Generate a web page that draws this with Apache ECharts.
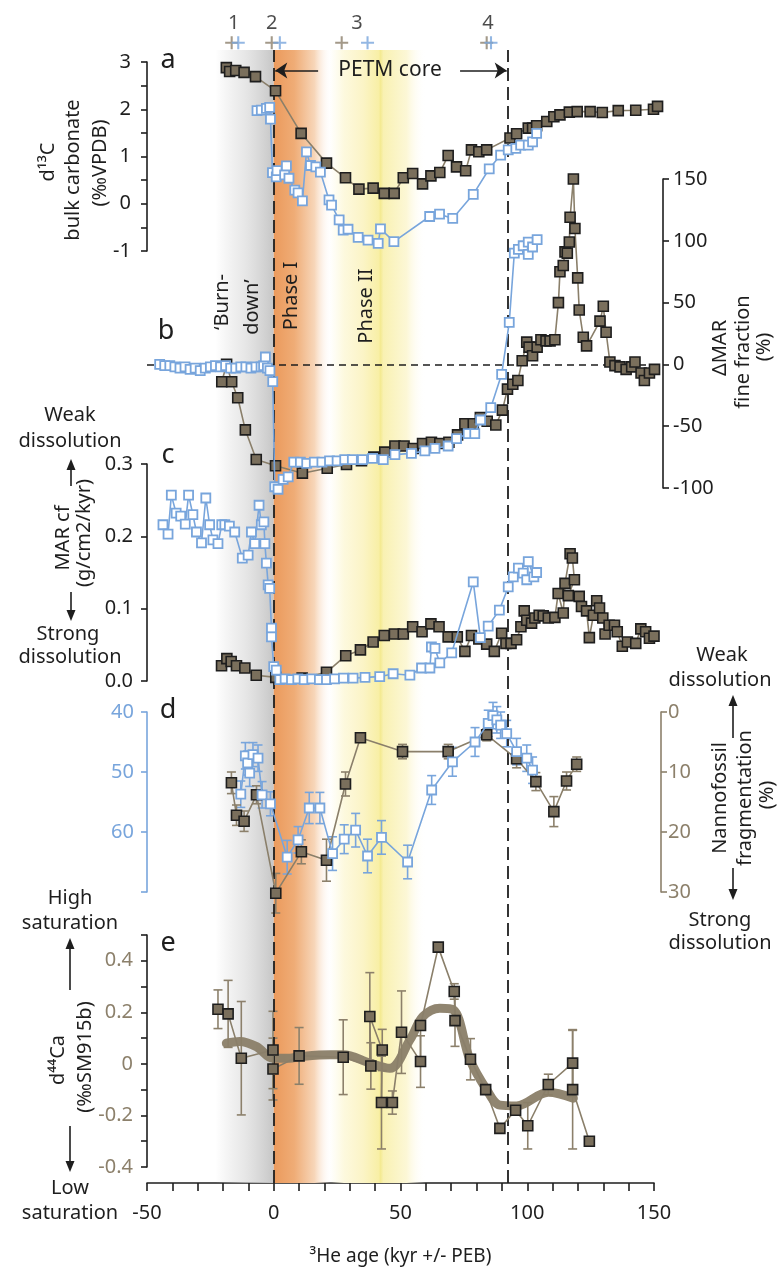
<!DOCTYPE html>
<html>
<head>
<meta charset="utf-8">
<script src="https://cdn.jsdelivr.net/npm/echarts/dist/echarts.min.js"></script>
<style>
html, body { margin: 0; padding: 0; background: #fff; }
#chart { width: 782px; height: 1271px; }
</style>
</head>
<body>
<div id="chart"></div>
<script>
// age axis (kyr relative to PEB)
var ageMin = -50, ageMax = 150, ageTicks = [-50, 0, 50, 100, 150];

// tie points (top)
var tieBrownX = [-16.6, -0.8, 26.8, 84.0];
var tieBlueX = [-14.0, 2.4, 37.0, 85.7];
var tieNumX = [-15.8, -0.8, 32.8, 84.5];
var tieNum = ['1', '2', '3', '4'];

// a: d13C bulk carbonate
var aBrownX = [-18.7, -17.4, -15.0, -11.7, -7.2, 0.7, 10.8, 20.8, 28.3, 33.6, 39.2, 43.6, 47.5, 51.1, 54.8, 58.7, 62.0, 65.5, 68.8, 72.1, 75.7, 78.0, 80.9, 84.0, 93.2, 95.8, 100.4, 102.1, 103.7, 107.7, 110.5, 112.9, 116.6, 119.7, 124.8, 129.6, 135.9, 142.8, 149.8, 151.4];
var aBrownY = [2.88, 2.80, 2.82, 2.78, 2.69, 2.39, 1.49, 0.86, 0.55, 0.31, 0.33, 0.22, 0.22, 0.55, 0.64, 0.42, 0.59, 0.66, 1.02, 0.78, 0.70, 1.14, 1.10, 1.14, 1.39, 1.48, 1.60, 1.60, 1.65, 1.74, 1.84, 1.88, 1.94, 1.95, 1.95, 1.93, 1.97, 1.98, 2.00, 2.06];
var aBlueX = [-6.6, -4.9, -2.9, -1.6, -1.3, -0.5, 1.0, 1.3, 4.3, 5.0, 6.0, 8.3, 9.6, 11.3, 12.9, 14.5, 16.6, 18.4, 21.8, 22.8, 25.8, 27.4, 29.3, 33.3, 37.2, 41.2, 42.1, 47.4, 61.5, 65.4, 70.6, 78.7, 85.0, 89.5, 92.5, 95.5, 97.4, 100.4, 102.1, 103.7];
var aBlueY = [1.97, 1.98, 2.02, 2.04, 1.79, 0.66, 0.57, 0.70, 0.61, 0.80, 0.54, 0.29, 0.23, 0.06, 1.10, 0.81, 0.78, 0.67, 0.08, -0.03, -0.34, -0.56, -0.54, -0.71, -0.77, -0.84, -0.53, -0.80, -0.27, -0.22, -0.31, 0.20, 0.74, 1.03, 1.14, 1.17, 1.24, 1.24, 1.31, 1.49];

// b: delta MAR fine fraction (%)
var bBrownX = [-20.5, -18.6, -16.6, -14.2, -11.2, -6.9, 0.7, 11.3, 21.1, 28.7, 34.6, 39.5, 43.8, 47.8, 51.4, 55.0, 58.7, 62.2, 65.5, 69.1, 72.5, 75.4, 78.7, 81.5, 84.2, 87.6, 90.2, 92.2, 94.3, 96.3, 98.0, 99.8, 100.7, 102.1, 103.9, 105.4, 107.4, 109.0, 110.9, 112.3, 112.9, 114.2, 114.9, 115.8, 116.6, 116.9, 118.2, 118.8, 119.9, 120.5, 122.1, 123.4, 128.7, 130.0, 131.1, 132.6, 134.6, 136.6, 139.0, 141.2, 142.5, 144.9, 146.2, 148.2, 150.2];
var bBrownY = [-14, 0, -14, -27, -53, -77, -82, -88, -84, -81, -78, -75, -71, -66, -66, -68, -64, -63, -64, -63, -57, -48, -48, -43, -46, -49, -37, -20, -16, -13, 3, 18, 14, 7, 14, 20, 19, 19, 20, 50, 75, 80, 91, 90, 99, 119, 150, 110, 70, 44, 22, 15, 35, 47, 26, 2, -1, -2, -4, -2, 2, -7, -13, -7, -4];
var bBlueX = [-45, -43, -41, -39, -37, -35, -33, -31, -29, -27, -25, -23, -21, -19, -17, -15, -13, -11, -9, -7, -5, -4, -3.3, -2.5, -1.5, -0.4, 0.4, 1.7, 3.7, 5.7, 7.9, 10.5, 13, 16, 19, 22, 25, 28, 31, 35, 39, 43.2, 47.8, 54.3, 59.6, 63.6, 68.8, 72.1, 76.7, 79.3, 81.6, 85.6, 89.9, 92.9, 94.9, 96.5, 98.4, 100.4, 100.4, 102.1, 103.9];
var bBlueY = [0, -1, -1, -2, -3, -2, -4, -3, -5, -3, -2, -1, -2, -1, -3, -3, -2, -2, -3, -2, -2, -1, 6, -3, -5, -14, -99, -101, -93, -91, -79, -79, -80, -79, -79, -78, -78, -77, -77, -77, -76, -77, -73, -72, -70, -68, -66, -60, -56, -56, -45, -35, -8, 34, 90, 93, 96, 89, 99, 95, 101];

// c: MAR coarse fraction (g/cm2/kyr)
var cBrownX = [-20.6, -18.5, -16.8, -14.7, -11.4, -6.9, 0.8, 11.2, 20.8, 28.4, 34.2, 39.2, 43.6, 47.6, 51.1, 54.8, 58.5, 62.0, 65.2, 68.8, 72.4, 75.4, 78.0, 80.9, 84.0, 87.0, 89.9, 91.6, 93.6, 95.8, 97.5, 98.8, 99.8, 101.7, 103.0, 104.7, 106.3, 108.3, 110.9, 112.2, 114.2, 114.9, 116.9, 117.8, 118.6, 116.2, 120.5, 121.4, 123.4, 124.5, 126.1, 127.4, 128.5, 129.8, 130.7, 132.3, 134.4, 135.5, 137.5, 139.5, 142.8, 144.8, 146.7, 148.2, 150.0];
var cBrownY = [0.021, 0.031, 0.027, 0.021, 0.018, 0.008, 0.005, 0.004, 0.012, 0.035, 0.043, 0.054, 0.063, 0.065, 0.065, 0.075, 0.068, 0.079, 0.075, 0.061, 0.061, 0.041, 0.063, 0.058, 0.051, 0.041, 0.066, 0.052, 0.052, 0.057, 0.075, 0.097, 0.084, 0.080, 0.087, 0.091, 0.090, 0.087, 0.088, 0.121, 0.094, 0.135, 0.176, 0.170, 0.140, 0.118, 0.117, 0.103, 0.097, 0.060, 0.091, 0.111, 0.101, 0.087, 0.065, 0.077, 0.077, 0.068, 0.048, 0.054, 0.052, 0.072, 0.068, 0.059, 0.062];
var cBlueX = [-43.7, -41.7, -40.4, -38.5, -36.7, -34.9, -33.6, -31.9, -30.5, -28.5, -26.8, -25.3, -24.0, -22.0, -20.5, -19.3, -17.5, -15.4, -12.4, -10.1, -8.8, -7.5, -5.8, -4.9, -3.9, -3.5, -2.9, -2.2, -1.6, -0.9, -0.9, 0.0, 1.0, 2.4, 4.5, 7.0, 9.5, 12.0, 15.0, 18.0, 20.8, 24.0, 27.5, 31.3, 36.0, 41.8, 47.1, 53.7, 58.3, 61.6, 62.2, 63.6, 65.5, 70.2, 78.7, 81.5, 84.6, 89.0, 92.5, 94.5, 96.5, 98.4, 99.8, 100.4, 102.6, 103.7];
var cBlueY = [0.216, 0.203, 0.257, 0.232, 0.228, 0.217, 0.257, 0.230, 0.206, 0.191, 0.253, 0.216, 0.195, 0.190, 0.216, 0.216, 0.214, 0.206, 0.170, 0.174, 0.206, 0.190, 0.243, 0.216, 0.220, 0.190, 0.163, 0.133, 0.128, 0.073, 0.061, 0.020, 0.015, 0.002, 0.003, 0.002, 0.003, 0.002, 0.003, 0.002, 0.002, 0.003, 0.004, 0.004, 0.005, 0.006, 0.010, 0.008, 0.018, 0.018, 0.047, 0.045, 0.025, 0.039, 0.137, 0.060, 0.076, 0.098, 0.130, 0.144, 0.156, 0.149, 0.140, 0.165, 0.144, 0.150];

// d: nannofossil fragmentation (%) and blue record (left axis)
var dBrownX = [-16.7, -14.7, -11.7, -6.8, 0.8, 10.9, 20.8, 28.3, 34.2, 50.8, 68.8, 84.0, 95.8, 103.4, 110.5, 115.5, 119.5];
var dBrownY = [11.8, 17.2, 18.2, 13.8, 30.2, 23.3, 24.7, 12.0, 4.3, 6.6, 6.6, 3.8, 7.8, 11.6, 16.6, 11.5, 8.7];
var dBrownErr = [1.8, 1.7, 1.7, 1.5, 3.3, 2.0, 3.5, 2.0, 0.6, 1.2, 1.2, 1.0, 1.5, 1.5, 2.5, 1.5, 1.2];
var dBlueX = [-13.0, -11.2, -10.3, -9.5, -8.2, -6.2, -4.6, -1.3, 5.3, 9.6, 14.0, 18.2, 23.2, 27.8, 32.3, 37.0, 42.5, 52.8, 62.3, 70.5, 79.4, 84.6, 86.5, 88.0, 89.5, 91.9, 95.8, 99.8, 102.1];
var dBlueY = [53.7, 47.3, 48.5, 50.2, 47.1, 47.7, 53.8, 55.3, 64.2, 61.3, 56.0, 56.0, 63.6, 61.2, 59.7, 64.0, 60.9, 65.0, 53.0, 48.3, 45.0, 41.9, 40.6, 41.3, 42.2, 43.6, 46.6, 47.7, 49.7];
var dBlueErr = [2.2, 2.2, 2.0, 2.2, 2.0, 2.2, 2.2, 2.0, 2.8, 2.2, 2.6, 2.6, 2.8, 2.4, 2.8, 2.8, 2.8, 2.8, 2.4, 2.4, 2.4, 2.2, 2.2, 2.2, 2.2, 2.2, 2.2, 2.2, 2.2];

// e: d44Ca (permil SM915b)
var eX = [-22.0, -18.0, -12.8, -0.3, -0.3, 10.0, 27.4, 38.3, 37.9, 42.8, 42.5, 46.8, 50.4, 57.9, 57.9, 64.9, 71.2, 71.5, 77.6, 83.6, 89.2, 95.4, 100.2, 108.3, 117.9, 117.9, 124.5];
var eY = [0.212, 0.194, 0.022, 0.054, -0.020, 0.031, 0.026, -0.008, 0.184, 0.054, -0.150, -0.150, 0.123, 0.009, 0.149, 0.453, 0.281, 0.168, 0.018, -0.100, -0.250, -0.180, -0.240, -0.080, 0.003, -0.100, -0.300];
var eErr = [0.075, 0.13, 0.22, 0.15, 0.12, 0.11, 0.145, 0.09, 0.17, 0.08, 0.18, 0.045, 0.16, 0.10, 0.0, 0.0, 0.03, 0.10, 0.08, 0.0, 0.0, 0.0, 0.09, 0.04, 0.13, 0.23, 0.0];
var eFitX = [-18.7, -13.4, -6.8, -0.3, 6.3, 10.3, 22.1, 27.4, 37.9, 45.8, 53.7, 58.9, 65.5, 70.8, 77.4, 84.0, 89.2, 95.8, 108.3, 118.2];
var eFitY = [0.080, 0.087, 0.067, 0.022, 0.022, 0.028, 0.035, 0.035, 0.003, -0.017, 0.093, 0.184, 0.216, 0.210, 0.016, -0.100, -0.160, -0.163, -0.110, -0.133];

// shaded intervals and boundaries
var burnDown = [-23, 0];
var phase1 = [0, 23];
var phase2 = [22, 60];
var petmCore = [0, 92.5];

var FONT = '"Noto Sans", "Open Sans", sans-serif';
var INK = '#1e1e1e';
var BROWN_FILL = '#7a6f5c';
var BROWN_LINE = '#8a7f6a';
var TAUPE = '#8c806b';
var BLUE = '#78a5dc';

function pairs(xs, ys) {
    return xs.map(function (x, i) { return [x, ys[i]]; });
}
function bars(xs, ys, es) {
    return xs.map(function (x, i) { return [x, ys[i] - es[i], ys[i] + es[i]]; });
}

var chartDom = document.getElementById('chart');
var myChart = echarts.init(chartDom);

var L = 147, W = 507;
var grids = [
    {left: L, width: W, top: 50, height: 1134},   // 0 background + age axis
    {left: L, width: W, top: 62, height: 189},    // 1 a
    {left: L, width: W, top: 179, height: 309},   // 2 b
    {left: L, width: W, top: 464, height: 217},   // 3 c
    {left: L, width: W, top: 712, height: 180},   // 4 d
    {left: L, width: W, top: 935, height: 232},   // 5 e
    {left: L, width: W, top: 14, height: 36}      // 6 tie points
];

var xAxes = grids.map(function (g, i) {
    return {gridIndex: i, type: 'value', min: ageMin, max: ageMax, show: false};
});
xAxes[0] = {
    gridIndex: 0, type: 'value', min: ageMin, max: ageMax, interval: 50, position: 'bottom',
    axisLine: {onZero: false, lineStyle: {color: INK, width: 1.6}},
    axisTick: {length: 8, lineStyle: {color: INK, width: 1.6}},
    minorTick: {show: true, splitNumber: 5, length: 8, lineStyle: {color: INK, width: 1.6}},
    splitLine: {show: false},
    axisLabel: {color: INK, fontSize: 20, fontFamily: FONT, margin: 20},
    name: '³He age (kyr +/- PEB)', nameLocation: 'middle', nameGap: 64,
    nameTextStyle: {color: INK, fontSize: 19, fontFamily: FONT}
};

function yAxisOf(grid, o) {
    var col = o.color || INK;
    var ax = {
        gridIndex: grid, type: 'value', min: o.min, max: o.max, interval: o.interval,
        position: o.position || 'left', offset: o.offset || 0, inverse: !!o.inverse,
        splitLine: {show: false},
        axisLine: {show: true, onZero: false, lineStyle: {color: col, width: 1.6}},
        axisTick: {show: true, length: 6, lineStyle: {color: col, width: 1.6}},
        axisLabel: {color: o.labelColor || col, fontSize: 20, fontFamily: FONT, margin: o.margin || 14, formatter: o.formatter}
    };
    if (o.minor) ax.minorTick = {show: true, splitNumber: o.minor, length: 6, lineStyle: {color: col, width: 1.6}};
    return ax;
}

var yAxes = [
    {gridIndex: 0, type: 'value', min: 0, max: 1, show: false},
    yAxisOf(1, {min: -1, max: 3, interval: 1, minor: 2, margin: 16}),
    yAxisOf(2, {min: -100, max: 150, interval: 50, position: 'right', offset: 9, margin: 10}),
    yAxisOf(3, {min: 0, max: 0.3, interval: 0.1, formatter: function (v) { return v.toFixed(1); }}),
    yAxisOf(4, {min: 40, max: 70, interval: 10, inverse: true, color: BLUE, margin: 13,
        formatter: function (v) { return v === 70 ? '' : v; }}),
    yAxisOf(4, {min: 0, max: 30, interval: 10, inverse: true, position: 'right', offset: 7, color: TAUPE, margin: 7}),
    yAxisOf(5, {min: -0.4, max: 0.5, interval: 0.1, labelColor: TAUPE, margin: 14,
        formatter: function (v) {
            var r = Math.round(v * 10);
            if (r % 2 !== 0 || r > 4) return '';
            return r === 0 ? '0' : (r / 10).toFixed(1);
        }}),
    {gridIndex: 6, type: 'value', min: 0, max: 1, show: false}
];

function brownLine(name, xi, yi, data) {
    return {
        name: name, type: 'line', xAxisIndex: xi, yAxisIndex: yi, data: data,
        symbol: 'rect', symbolSize: 10, showAllSymbol: true, clip: false, z: 5,
        lineStyle: {color: BROWN_LINE, width: 1.6},
        itemStyle: {color: BROWN_FILL, borderColor: INK, borderWidth: 1.6}
    };
}
function blueLine(name, xi, yi, data) {
    return {
        name: name, type: 'line', xAxisIndex: xi, yAxisIndex: yi, data: data,
        symbol: 'rect', symbolSize: 9, showAllSymbol: true, clip: false, z: 6,
        lineStyle: {color: BLUE, width: 1.6},
        itemStyle: {color: '#fff', borderColor: BLUE, borderWidth: 1.8}
    };
}
function errorBars(name, xi, yi, data, color) {
    return {
        name: name, type: 'custom', xAxisIndex: xi, yAxisIndex: yi, data: data, z: 3,
        encode: {x: 0, y: [1, 2]},
        renderItem: function (params, api) {
            var x = api.value(0);
            var p1 = api.coord([x, api.value(1)]);
            var p2 = api.coord([x, api.value(2)]);
            var w = 4.5, st = {stroke: color, lineWidth: 1.6};
            return {
                type: 'group', children: [
                    {type: 'line', shape: {x1: p1[0], y1: p1[1], x2: p2[0], y2: p2[1]}, style: st},
                    {type: 'line', shape: {x1: p1[0] - w, y1: p1[1], x2: p1[0] + w, y2: p1[1]}, style: st},
                    {type: 'line', shape: {x1: p2[0] - w, y1: p2[1], x2: p2[0] + w, y2: p2[1]}, style: st}
                ]
            };
        }
    };
}

function hGrad(stops) {
    return {type: 'linear', x: 0, y: 0, x2: 1, y2: 0, colorStops: stops};
}

var plus = 'path://M4.2,0h1.6v4.2h4.2v1.6h-4.2v4.2h-1.6v-4.2h-4.2v-1.6h4.2z';

var series = [
    {
        name: 'shading', type: 'line', xAxisIndex: 0, yAxisIndex: 0, data: [], z: 0, silent: true,
        markArea: {
            silent: true,
            data: [
                [{xAxis: burnDown[0], itemStyle: {color: hGrad([
                    {offset: 0, color: 'rgba(210,210,210,0)'},
                    {offset: 0.5, color: 'rgba(215,215,215,0.6)'},
                    {offset: 1, color: '#c6c6c6'}])}}, {xAxis: burnDown[1]}],
                [{xAxis: phase2[0], itemStyle: {color: hGrad([
                    {offset: 0, color: 'rgba(253,250,225,0)'},
                    {offset: 0.15, color: '#fdf9de'},
                    {offset: 0.35, color: '#fbf4c6'},
                    {offset: 0.51, color: '#f8efa6'},
                    {offset: 0.53, color: '#f4ea92'},
                    {offset: 0.56, color: '#f9f1b2'},
                    {offset: 0.8, color: '#fcf7d6'},
                    {offset: 1, color: 'rgba(255,255,255,0)'}])}}, {xAxis: phase2[1]}],
                [{xAxis: phase1[0], itemStyle: {color: hGrad([
                    {offset: 0, color: '#eb9a5c'},
                    {offset: 0.35, color: '#efac76'},
                    {offset: 0.7, color: '#f7d6b9'},
                    {offset: 1, color: 'rgba(255,255,255,0)'}])}}, {xAxis: phase1[1]}]
            ]
        },
        markLine: {
            silent: true, symbol: 'none', label: {show: false},
            lineStyle: {color: INK, width: 1.8, type: [13, 6]},
            data: [{xAxis: petmCore[0]}, {xAxis: petmCore[1]}]
        }
    },
    {
        name: 'petm', type: 'line', xAxisIndex: 0, yAxisIndex: 0, data: [], z: 1, silent: true,
        markLine: {
            silent: true, label: {show: false}, symbolSize: 12,
            lineStyle: {color: INK, width: 1.6, type: 'solid'},
            data: [
                [{coord: [17.5, 0.982], symbol: 'none'}, {coord: [petmCore[0] + 0.6, 0.982], symbol: 'arrow'}],
                [{coord: [73.5, 0.982], symbol: 'none'}, {coord: [petmCore[1] - 0.6, 0.982], symbol: 'arrow'}]
            ]
        }
    },
    // tie points
    {type: 'scatter', xAxisIndex: 6, yAxisIndex: 7, data: tieBrownX.map(function (x) { return [x, 0.2]; }),
        symbol: plus, symbolSize: 13, itemStyle: {color: TAUPE}, z: 5},
    {type: 'scatter', xAxisIndex: 6, yAxisIndex: 7, data: tieBlueX.map(function (x) { return [x, 0.2]; }),
        symbol: plus, symbolSize: 13, itemStyle: {color: BLUE}, z: 5},
    {type: 'scatter', xAxisIndex: 6, yAxisIndex: 7, symbolSize: 0,
        data: tieNumX.map(function (x, i) { return {value: [x, 0.75], name: tieNum[i]}; }),
        label: {show: true, position: 'inside', formatter: '{b}', color: INK, fontSize: 20, fontFamily: FONT}, z: 5},
    // b
    brownLine('b brown', 2, 2, pairs(bBrownX, bBrownY)),
    Object.assign(blueLine('b blue', 2, 2, pairs(bBlueX, bBlueY)), {
        markLine: {silent: true, symbol: 'none', label: {show: false},
            lineStyle: {color: INK, width: 1.6, type: [7, 5]}, data: [{yAxis: 0}]}
    }),
    // c
    brownLine('c brown', 3, 3, pairs(cBrownX, cBrownY)),
    blueLine('c blue', 3, 3, pairs(cBlueX, cBlueY)),
    // a
    blueLine('a blue', 1, 1, pairs(aBlueX, aBlueY)),
    brownLine('a brown', 1, 1, pairs(aBrownX, aBrownY)),
    // d
    errorBars('d blue err', 4, 4, bars(dBlueX, dBlueY, dBlueErr), BLUE),
    blueLine('d blue', 4, 4, pairs(dBlueX, dBlueY)),
    errorBars('d brown err', 4, 5, bars(dBrownX, dBrownY, dBrownErr), TAUPE),
    brownLine('d brown', 4, 5, pairs(dBrownX, dBrownY)),
    // e
    {name: 'e fit', type: 'line', xAxisIndex: 5, yAxisIndex: 6, data: pairs(eFitX, eFitY),
        smooth: 0.35, symbol: 'none', clip: false, z: 4,
        lineStyle: {color: '#8a7e68', width: 9, opacity: 0.95, cap: 'round'}},
    errorBars('e err', 5, 6, bars(eX, eY, eErr), TAUPE),
    brownLine('e', 5, 6, pairs(eX, eY))
];

// annotation text
function txt(s, x, y, o) {
    o = o || {};
    return {
        type: 'text', x: x, y: y, rotation: o.rot ? Math.PI / 2 : 0, z: 100, silent: true,
        style: {text: s, fill: o.color || INK, fontSize: o.size || 20, fontFamily: FONT,
            align: 'center', verticalAlign: 'middle'}
    };
}
function vArrow(x, y0, y1) {
    var d = y1 > y0 ? 1 : -1;
    return [
        {type: 'line', z: 100, silent: true, shape: {x1: x, y1: y0, x2: x, y2: y1 - d * 6}, style: {stroke: INK, lineWidth: 1.6}},
        {type: 'polygon', z: 100, silent: true, shape: {points: [[x - 4.5, y1 - d * 11], [x + 4.5, y1 - d * 11], [x, y1]]}, style: {fill: INK}}
    ];
}

var graphics = [
    txt('a', 168, 60, {size: 27}),
    txt('b', 166, 331, {size: 27}),
    txt('c', 168, 455, {size: 27}),
    txt('d', 168, 710, {size: 27}),
    txt('e', 168, 943, {size: 27}),
    txt('PETM core', 390, 70, {size: 21}),
    txt('d¹³C', 48, 162, {rot: true}),
    txt('bulk carbonate', 73, 170, {rot: true}),
    txt('(‰VPDB)', 100, 163, {rot: true}),
    txt('ΔMAR', 720, 348, {rot: true}),
    txt('fine fraction', 743, 352, {rot: true}),
    txt('(%)', 764, 347, {rot: true}),
    txt('\u2018Burn-', 222, 302, {rot: true}),
    txt('down\u2019', 252, 307, {rot: true}),
    txt('Phase I', 291, 296, {rot: true}),
    txt('Phase II', 366, 306, {rot: true}),
    txt('Weak', 70, 415),
    txt('dissolution', 70, 441),
    txt('MAR cf', 63, 538, {rot: true}),
    txt('(g/cm2/kyr)', 84, 533, {rot: true}),
    txt('Strong', 68, 634),
    txt('dissolution', 70, 657),
    txt('Weak', 722, 655),
    txt('dissolution', 720, 680),
    txt('Nannofossil', 720, 798, {rot: true}),
    txt('fragmentation', 745, 798, {rot: true}),
    txt('(%)', 767, 795, {rot: true}),
    txt('Strong', 720, 920),
    txt('dissolution', 720, 943),
    txt('High', 70, 898),
    txt('saturation', 70, 923),
    txt('d⁴⁴Ca', 58, 1060, {rot: true}),
    txt('(‰SM915b)', 85, 1057, {rot: true}),
    txt('Low', 70, 1188),
    txt('saturation', 70, 1213)
].concat(vArrow(71, 486, 459), vArrow(71, 592, 621),
    vArrow(733, 738, 695), vArrow(733, 868, 900),
    vArrow(70, 990, 938), vArrow(70, 1126, 1172));

var option = {
    animation: false,
    backgroundColor: '#fff',
    grid: grids,
    xAxis: xAxes,
    yAxis: yAxes,
    series: series,
    graphic: graphics
};

option && myChart.setOption(option);
new ResizeObserver(() => myChart.resize()).observe(chartDom);
</script>
</body>
</html>
